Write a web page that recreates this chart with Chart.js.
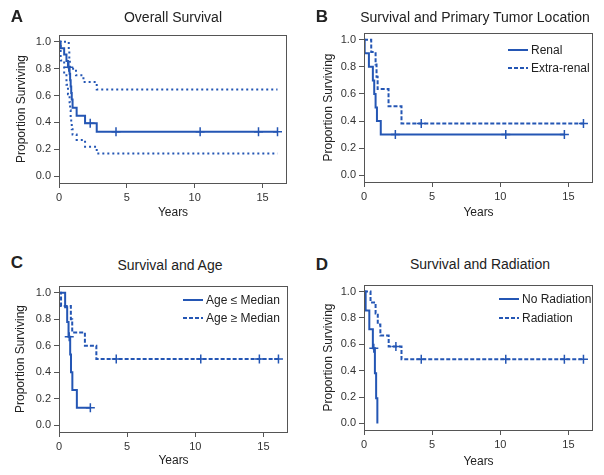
<!DOCTYPE html>
<html>
<head>
<meta charset="utf-8">
<script src="https://cdn.jsdelivr.net/npm/chart.js@4.4.0/dist/chart.umd.min.js"></script>
<style>
  body { margin: 0; background: #fff; font-family: 'Liberation Sans', Arial, sans-serif; color: #222; }
  #page { position: relative; width: 604px; height: 475px; overflow: hidden; }
  canvas { position: absolute; }
  .letter { position: absolute; font-weight: bold; font-size: 17px; line-height: 1; transform: translate(-50%, -50%); }
  .title { position: absolute; font-size: 14px; line-height: 1; white-space: nowrap; transform: translate(-50%, -50%); }
  .legend-row { position: absolute; font-size: 12px; line-height: 1; white-space: nowrap; display: flex; align-items: center; transform: translateY(-50%); }
  .legend-row svg { margin-right: 3px; }
</style>
</head>
<body>
<div id="page">
  <canvas id="chartA" width="300" height="203" style="left:0px;top:25px"></canvas>
  <canvas id="chartB" width="302" height="205" style="left:302px;top:23px"></canvas>
  <canvas id="chartC" width="300" height="199" style="left:0px;top:276px"></canvas>
  <canvas id="chartD" width="302" height="200" style="left:302px;top:275px"></canvas>

  <div class="letter" style="left:17px;top:16px">A</div>
  <div class="letter" style="left:322px;top:16px">B</div>
  <div class="letter" style="left:17px;top:262px">C</div>
  <div class="letter" style="left:322px;top:264px">D</div>

  <div class="title" style="left:173px;top:17px">Overall Survival</div>
  <div class="title" style="left:475px;top:17px">Survival and Primary Tumor Location</div>
  <div class="title" style="left:170px;top:265px">Survival and Age</div>
  <div class="title" style="left:480px;top:264px">Survival and Radiation</div>

  <div id="legendB"></div>
  <div id="legendC"></div>
  <div id="legendD"></div>
</div>

<script>
// ---- data (years, proportion surviving) ----

// common axis settings
const xTicks = [0, 5, 10, 15];
const yTicks = [0, 0.2, 0.4, 0.6, 0.8, 1.0];

// A: overall survival with confidence band
const overallTime = [0, 0.12, 0.38, 0.55, 0.66, 0.78, 0.82, 0.86, 0.90, 0.94, 1.00, 1.30, 1.92, 2.78, 16.1];
const overallSurv = [1, 0.952, 0.905, 0.857, 0.810, 0.762, 0.714, 0.667, 0.619, 0.571, 0.510, 0.450, 0.395, 0.330, 0.330];
const overallCensorTime = [0.72, 2.3, 4.2, 10.4, 14.7, 16.1];
const overallCensorSurv = [0.810, 0.395, 0.330, 0.330, 0.330, 0.330];
const upperTime = [0, 0.72, 0.76, 0.80, 1.25, 1.80, 2.78, 16.1];
const upperSurv = [1, 0.93, 0.86, 0.80, 0.75, 0.70, 0.645, 0.645];
const lowerTime = [0, 0.12, 0.38, 0.55, 0.66, 0.78, 0.82, 0.86, 0.90, 0.94, 1.00, 1.30, 1.92, 2.78, 16.1];
const lowerSurv = [1, 0.86, 0.76, 0.68, 0.61, 0.55, 0.49, 0.44, 0.39, 0.35, 0.31, 0.27, 0.22, 0.17, 0.17];

// B: primary tumor location
const renalTime = [0, 0.05, 0.36, 0.65, 0.75, 0.85, 0.95, 1.23, 14.7];
const renalSurv = [1, 0.9, 0.8, 0.7, 0.6, 0.5, 0.4, 0.3, 0.3];
const renalCensorTime = [2.3, 10.4, 14.7];
const renalCensorSurv = [0.3, 0.3, 0.3];
const extraTime = [0, 0.53, 0.85, 0.92, 1.00, 1.80, 2.75, 16.1];
const extraSurv = [1, 0.909, 0.818, 0.727, 0.636, 0.509, 0.382, 0.382];
const extraCensorTime = [4.2, 16.1];
const extraCensorSurv = [0.382, 0.382];

// C: age
const youngTime = [0, 0.45, 0.60, 0.70, 0.82, 0.88, 0.98, 1.31, 2.3];
const youngSurv = [1, 0.889, 0.778, 0.667, 0.533, 0.4, 0.267, 0.133, 0.133];
const youngCensorTime = [0.75, 2.3];
const youngCensorSurv = [0.667, 0.133];
const oldTime = [0, 0.15, 0.87, 0.97, 1.90, 2.74, 16.1];
const oldSurv = [1, 0.9, 0.8, 0.7, 0.6, 0.5, 0.5];
const oldCensorTime = [4.2, 10.4, 14.7, 16.1];
const oldCensorSurv = [0.5, 0.5, 0.5, 0.5];

// D: radiation
const noRadTime = [0, 0.12, 0.39, 0.65, 0.80, 0.89, 0.98];
const noRadSurv = [1, 0.857, 0.714, 0.571, 0.381, 0.190, 0];
const noRadCensorTime = [0.72];
const noRadCensorSurv = [0.571];
const radTime = [0, 0.48, 0.85, 1.01, 1.20, 1.81, 2.75, 16.1];
const radSurv = [1, 0.917, 0.833, 0.75, 0.667, 0.583, 0.486, 0.486];
const radCensorTime = [2.34, 4.2, 10.4, 14.7, 16.1];
const radCensorSurv = [0.583, 0.486, 0.486, 0.486, 0.486];

// ---- styling ----
const BLUE = '#2456b4';
const AXIS = '#555';
const FONT = "'Liberation Sans', Arial, sans-serif";

function points(times, survs) {
    return times.map((t, i) => ({ x: t, y: survs[i] }));
}

// step curve
function curve(times, survs, dash) {
    return {
        data: points(times, survs),
        showLine: true,
        stepped: true,
        borderColor: BLUE,
        borderWidth: 2,
        borderDash: dash || [],
        pointRadius: 0,
        fill: false
    };
}

// censor marks "+"
function censors(times, survs) {
    return {
        data: points(times, survs),
        showLine: false,
        pointStyle: 'cross',
        pointRadius: 4.5,
        borderColor: BLUE,
        pointBorderWidth: 1.5
    };
}

// full frame around the plot area
const framePlugin = {
    id: 'frame',
    afterDraw(chart) {
        const a = chart.chartArea;
        const ctx = chart.ctx;
        ctx.save();
        ctx.strokeStyle = AXIS;
        ctx.lineWidth = 1;
        ctx.strokeRect(a.left + 0.5, a.top + 0.5, a.right - a.left - 1, a.bottom - a.top);
        ctx.restore();
    }
};

function panelOptions(geo) {
    return {
        responsive: false,
        animation: false,
        events: [],
        layout: { padding: { top: geo.padTop, right: geo.padRight, left: 0, bottom: 0 } },
        plugins: { legend: { display: false }, tooltip: { enabled: false } },
        scales: {
            x: {
                type: 'linear',
                min: 0,
                max: 16.8,
                afterFit: s => { s.height = geo.xHeight; },
                afterBuildTicks: s => { s.ticks = xTicks.map(v => ({ value: v })); },
                grid: { drawOnChartArea: false, tickLength: 5, color: AXIS },
                border: { display: false },
                ticks: { color: '#333', font: { size: 11, family: FONT }, padding: 3, maxRotation: 0 },
                title: { display: true, text: 'Years', color: '#222', font: { size: 12, family: FONT },
                         padding: { top: 0, bottom: geo.xTitlePad } }
            },
            y: {
                type: 'linear',
                min: -0.05,
                max: 1.05,
                afterFit: s => { s.width = geo.yWidth; },
                afterBuildTicks: s => { s.ticks = yTicks.map(v => ({ value: v })); },
                grid: { drawOnChartArea: false, tickLength: 5, color: AXIS },
                border: { display: false },
                ticks: { color: '#333', font: { size: 11, family: FONT }, padding: 3,
                         callback: v => v.toFixed(1) },
                title: { display: true, text: 'Proportion Surviving', color: '#222', font: { size: 12, family: FONT },
                         padding: { top: geo.yTitlePad, bottom: 0 } }
            }
        }
    };
}

function drawPanel(id, datasets, geo) {
    new Chart(document.getElementById(id), {
        type: 'scatter',
        data: { datasets: datasets },
        options: panelOptions(geo),
        plugins: [framePlugin]
    });
}

// legend built as html next to the plot
function drawLegend(id, names, dashes, left, tops) {
    const host = document.getElementById(id);
    names.forEach((name, i) => {
        const row = document.createElement('div');
        row.className = 'legend-row';
        row.style.left = left + 'px';
        row.style.top = tops[i] + 'px';
        row.innerHTML = '<svg width="20" height="4"><line x1="0" y1="2" x2="20" y2="2" stroke="' + BLUE +
            '" stroke-width="2" stroke-dasharray="' + dashes[i] + '"/></svg><span>' + name + '</span>';
        host.appendChild(row);
    });
}

drawPanel('chartA', [
    curve(overallTime, overallSurv),
    censors(overallCensorTime, overallCensorSurv),
    curve(upperTime, upperSurv, [2, 3]),
    curve(lowerTime, lowerSurv, [2, 3])
], { padTop: 10, padRight: 13, yWidth: 59, xHeight: 45, yTitlePad: 14.5, xTitlePad: 8 });

drawPanel('chartB', [
    curve(renalTime, renalSurv),
    censors(renalCensorTime, renalCensorSurv),
    curve(extraTime, extraSurv, [4, 2]),
    censors(extraCensorTime, extraCensorSurv)
], { padTop: 10, padRight: 11, yWidth: 62, xHeight: 46, yTitlePad: 19, xTitlePad: 8 });

drawPanel('chartC', [
    curve(youngTime, youngSurv),
    censors(youngCensorTime, youngCensorSurv),
    curve(oldTime, oldSurv, [4, 2]),
    censors(oldCensorTime, oldCensorSurv)
], { padTop: 10, padRight: 12, yWidth: 59, xHeight: 43, yTitlePad: 13, xTitlePad: 7 });

drawPanel('chartD', [
    curve(noRadTime, noRadSurv),
    censors(noRadCensorTime, noRadCensorSurv),
    curve(radTime, radSurv, [4, 2]),
    censors(radCensorTime, radCensorSurv)
], { padTop: 10, padRight: 11, yWidth: 62, xHeight: 45, yTitlePad: 19, xTitlePad: 6 });

drawLegend('legendB', ['Renal', 'Extra-renal'], ['none', '4 2'], 508, [50, 68]);
drawLegend('legendC', ['Age ≤ Median', 'Age ≥ Median'], ['none', '4 2'], 183, [300, 318]);
drawLegend('legendD', ['No Radiation', 'Radiation'], ['none', '4 2'], 499, [299, 318]);
</script>
</body>
</html>
